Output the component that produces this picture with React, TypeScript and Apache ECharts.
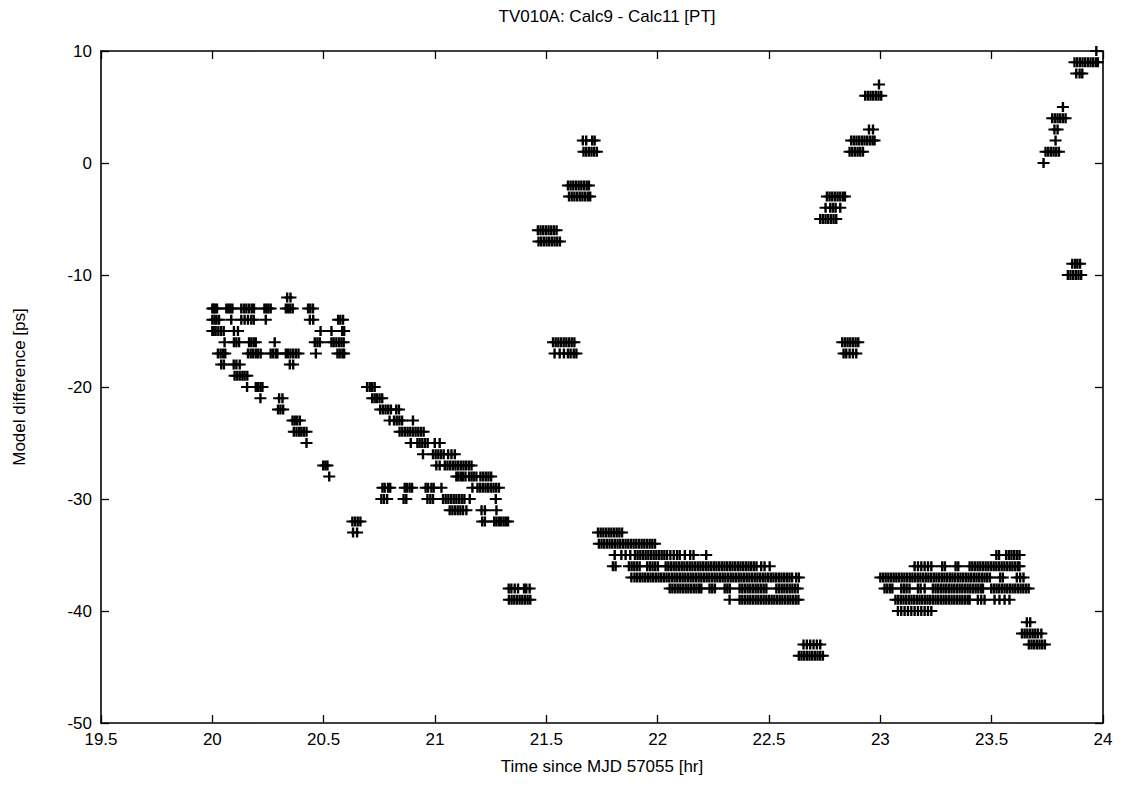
import React, { useEffect, useRef } from "react";
import * as echarts from "echarts";

// Each row: [model difference (ps), time (hr), time (hr), ...]
const groupA: number[][] = [
  [-12, 20.336, 20.351],
  [-13, 20.0, 20.005, 20.012, 20.021, 20.063, 20.072, 20.081, 20.09, 20.13, 20.142, 20.153, 20.165, 20.177, 20.187, 20.234, 20.243, 20.252, 20.262, 20.33, 20.34, 20.35, 20.361, 20.43, 20.44, 20.452],
  [-14, 20.0, 20.01, 20.019, 20.03, 20.085, 20.13, 20.145, 20.16, 20.175, 20.186, 20.24, 20.438, 20.453, 20.565, 20.575, 20.587],
  [-15, 20.0, 20.006, 20.015, 20.027, 20.039, 20.051, 20.097, 20.115, 20.486, 20.535, 20.583, 20.592],
  [-16, 20.055, 20.097, 20.108, 20.12, 20.165, 20.175, 20.186, 20.195, 20.28, 20.46, 20.472, 20.483, 20.535, 20.545, 20.557, 20.569, 20.58, 20.59],
  [-17, 20.025, 20.037, 20.048, 20.058, 20.16, 20.172, 20.183, 20.195, 20.205, 20.217, 20.262, 20.273, 20.285, 20.292, 20.33, 20.34, 20.351, 20.363, 20.375, 20.387, 20.465, 20.562, 20.572, 20.584, 20.592],
  [-18, 20.04, 20.052, 20.096, 20.108, 20.123, 20.348, 20.363],
  [-19, 20.1, 20.112, 20.123, 20.135, 20.145, 20.157],
  [-20, 20.156, 20.195, 20.205, 20.216, 20.225],
  [-21, 20.216, 20.3, 20.315],
  [-22, 20.295, 20.306, 20.318],
  [-23, 20.36, 20.37, 20.381, 20.393],
  [-24, 20.366, 20.378, 20.39, 20.4, 20.411, 20.423],
  [-25, 20.423],
  [-27, 20.498, 20.508, 20.517],
  [-28, 20.525],
  [-32, 20.629, 20.641, 20.653, 20.665],
  [-33, 20.632, 20.65],
];

const groupB: number[][] = [
  [-20, 20.695, 20.707, 20.718, 20.729],
  [-21, 20.718, 20.729, 20.739, 20.751, 20.763],
  [-22, 20.754, 20.766, 20.778, 20.79, 20.802, 20.826, 20.838],
  [-23, 20.796, 20.816, 20.828, 20.84, 20.852, 20.901],
  [-24, 20.841, 20.853, 20.865, 20.877, 20.889, 20.901, 20.913, 20.925, 20.937, 20.949],
  [-25, 20.891, 20.921, 20.931, 20.943, 20.955, 20.967, 20.999, 21.021],
  [-26, 20.946, 20.991, 21.003, 21.015, 21.027, 21.039, 21.059, 21.074, 21.089],
  [-27, 21.006, 21.021, 21.044, 21.056, 21.068, 21.08, 21.092, 21.104, 21.116, 21.128, 21.14, 21.152, 21.164],
  [-28, 21.096, 21.105, 21.116, 21.126, 21.137, 21.153, 21.164, 21.174, 21.186, 21.204, 21.216, 21.228, 21.24, 21.252],
  [-29, 20.764, 20.774, 20.789, 20.799, 20.864, 20.874, 20.886, 20.897, 20.958, 20.969, 20.984, 20.994, 21.029, 21.168, 21.191, 21.203, 21.215, 21.227, 21.239, 21.251, 21.263, 21.275, 21.287],
  [-30, 20.759, 20.771, 20.785, 20.859, 20.871, 20.966, 20.979, 20.991, 21.036, 21.048, 21.06, 21.072, 21.084, 21.096, 21.108, 21.12, 21.132, 21.156, 21.273],
  [-31, 21.066, 21.078, 21.09, 21.102, 21.114, 21.126, 21.141, 21.209, 21.224, 21.276],
  [-32, 21.212, 21.224, 21.266, 21.276, 21.287, 21.297, 21.308, 21.318, 21.328],
];

const groupC: number[][] = [
  [-38, 21.331, 21.343, 21.358, 21.373, 21.4, 21.41, 21.425],
  [-39, 21.332, 21.344, 21.356, 21.368, 21.38, 21.392, 21.404, 21.416, 21.428],
  [-6, 21.462, 21.474, 21.486, 21.498, 21.51, 21.522, 21.534, 21.546],
  [-7, 21.465, 21.477, 21.489, 21.501, 21.513, 21.525, 21.537, 21.549, 21.561],
  [-16, 21.53, 21.542, 21.554, 21.566, 21.578, 21.59, 21.602, 21.614, 21.626],
  [-17, 21.537, 21.56, 21.579, 21.597, 21.609, 21.623, 21.635],
  [-2, 21.597, 21.609, 21.621, 21.633, 21.645, 21.657, 21.669, 21.681, 21.691],
  [-3, 21.602, 21.614, 21.626, 21.638, 21.65, 21.662, 21.674, 21.686, 21.697],
  [1, 21.667, 21.679, 21.691, 21.703, 21.715, 21.727],
  [2, 21.664, 21.679, 21.706, 21.717],
];

const groupD: number[][] = [
  [-33, 21.732, 21.744, 21.756, 21.768, 21.78, 21.792, 21.804, 21.816, 21.828, 21.84],
  [-34, 21.736, 21.748, 21.76, 21.772, 21.784, 21.796, 21.808, 21.82, 21.832, 21.844, 21.856, 21.868, 21.88, 21.892, 21.904, 21.916, 21.928, 21.94, 21.952, 21.964, 21.976, 21.988],
  [-35, 21.807, 21.837, 21.856, 21.877, 21.898, 21.91, 21.922, 21.934, 21.946, 21.958, 21.97, 21.982, 21.994, 22.006, 22.018, 22.03, 22.042, 22.057, 22.072, 22.087, 22.099, 22.122, 22.146, 22.161, 22.218],
  [-36, 21.799, 21.811, 21.871, 21.883, 21.895, 21.907, 21.919, 21.953, 21.965, 21.977, 21.989, 22.001, 22.036, 22.048, 22.06, 22.072, 22.084, 22.096, 22.108, 22.12, 22.132, 22.144, 22.156, 22.168, 22.18, 22.192, 22.204, 22.216, 22.228, 22.24, 22.252, 22.264, 22.276, 22.288, 22.3, 22.312, 22.324, 22.336, 22.348, 22.36, 22.372, 22.384, 22.396, 22.408, 22.42, 22.432, 22.444, 22.465, 22.48, 22.503],
  [-37, 21.882, 21.896, 21.908, 21.92, 21.932, 21.944, 21.956, 21.968, 21.98, 21.992, 22.004, 22.016, 22.028, 22.04, 22.052, 22.064, 22.076, 22.088, 22.1, 22.112, 22.124, 22.136, 22.148, 22.16, 22.172, 22.184, 22.196, 22.208, 22.22, 22.232, 22.244, 22.256, 22.268, 22.28, 22.292, 22.304, 22.316, 22.328, 22.34, 22.352, 22.364, 22.376, 22.388, 22.4, 22.412, 22.424, 22.436, 22.448, 22.46, 22.472, 22.484, 22.496, 22.508, 22.52, 22.532, 22.544, 22.556, 22.568, 22.58, 22.592, 22.604, 22.622, 22.634],
  [-38, 22.054, 22.066, 22.078, 22.09, 22.102, 22.114, 22.126, 22.138, 22.15, 22.162, 22.174, 22.186, 22.196, 22.233, 22.245, 22.257, 22.301, 22.313, 22.324, 22.368, 22.38, 22.392, 22.404, 22.416, 22.428, 22.44, 22.452, 22.464, 22.476, 22.488, 22.533, 22.545, 22.557, 22.569, 22.581, 22.593, 22.605, 22.617, 22.629],
  [-39, 22.323, 22.368, 22.38, 22.392, 22.404, 22.416, 22.428, 22.44, 22.452, 22.464, 22.476, 22.488, 22.5, 22.512, 22.524, 22.536, 22.548, 22.56, 22.572, 22.584, 22.596, 22.608, 22.62, 22.632],
  [-43, 22.655, 22.67, 22.685, 22.7, 22.715, 22.73],
  [-44, 22.634, 22.646, 22.658, 22.67, 22.682, 22.694, 22.706, 22.718, 22.73, 22.742],
];

const groupF: number[][] = [
  [7, 22.994],
  [6, 22.932, 22.944, 22.956, 22.968, 22.98, 22.992, 23.004],
  [3, 22.949, 22.967],
  [2, 22.869, 22.881, 22.893, 22.905, 22.917, 22.929, 22.941, 22.953, 22.965, 22.974],
  [1, 22.862, 22.874, 22.886, 22.898, 22.91, 22.922],
  [-3, 22.76, 22.772, 22.784, 22.796, 22.808, 22.82, 22.832, 22.841],
  [-4, 22.754, 22.775, 22.787, 22.799, 22.82],
  [-5, 22.73, 22.742, 22.754, 22.766, 22.778, 22.79, 22.802],
  [-16, 22.829, 22.841, 22.853, 22.865, 22.877, 22.889, 22.901],
  [-17, 22.835, 22.847, 22.862, 22.877, 22.892],
];

const groupE: number[][] = [
  [-35, 23.521, 23.533, 23.565, 23.577, 23.589, 23.601, 23.613, 23.625],
  [-36, 23.154, 23.169, 23.184, 23.199, 23.214, 23.229, 23.278, 23.29, 23.338, 23.35, 23.401, 23.413, 23.425, 23.437, 23.449, 23.461, 23.473, 23.485, 23.497, 23.509, 23.521, 23.533, 23.545, 23.557, 23.569, 23.581, 23.593, 23.605, 23.617, 23.625],
  [-37, 23.0, 23.012, 23.024, 23.036, 23.048, 23.06, 23.072, 23.084, 23.096, 23.108, 23.12, 23.132, 23.144, 23.156, 23.168, 23.18, 23.192, 23.204, 23.216, 23.228, 23.24, 23.252, 23.264, 23.276, 23.288, 23.3, 23.312, 23.324, 23.336, 23.348, 23.36, 23.372, 23.384, 23.396, 23.408, 23.42, 23.432, 23.444, 23.456, 23.468, 23.48, 23.492, 23.538, 23.55, 23.613, 23.628, 23.643],
  [-38, 23.019, 23.031, 23.043, 23.054, 23.094, 23.106, 23.118, 23.131, 23.169, 23.181, 23.199, 23.236, 23.248, 23.26, 23.272, 23.284, 23.296, 23.308, 23.32, 23.332, 23.344, 23.356, 23.368, 23.38, 23.392, 23.404, 23.416, 23.428, 23.44, 23.452, 23.461, 23.498, 23.51, 23.522, 23.534, 23.546, 23.558, 23.57, 23.582, 23.594, 23.606, 23.618, 23.63, 23.642, 23.654, 23.666],
  [-39, 23.068, 23.08, 23.092, 23.104, 23.116, 23.128, 23.14, 23.152, 23.164, 23.176, 23.188, 23.2, 23.212, 23.224, 23.236, 23.248, 23.26, 23.272, 23.284, 23.296, 23.308, 23.32, 23.332, 23.344, 23.356, 23.368, 23.38, 23.392, 23.401, 23.438, 23.453, 23.468, 23.513, 23.535, 23.558, 23.58],
  [-40, 23.079, 23.094, 23.109, 23.124, 23.139, 23.154, 23.169, 23.184, 23.199, 23.214, 23.229],
  [-41, 23.658, 23.673],
  [-42, 23.636, 23.648, 23.66, 23.672, 23.684, 23.696, 23.708, 23.723],
  [-43, 23.667, 23.679, 23.691, 23.703, 23.715, 23.727, 23.739],
];

const groupG: number[][] = [
  [10, 23.97],
  [9, 23.872, 23.884, 23.896, 23.908, 23.92, 23.932, 23.944, 23.956, 23.968, 23.977],
  [8, 23.88, 23.895, 23.907],
  [5, 23.82],
  [4, 23.772, 23.784, 23.796, 23.808, 23.82, 23.832],
  [3, 23.782, 23.796],
  [2, 23.787],
  [1, 23.742, 23.754, 23.766, 23.778, 23.79, 23.802],
  [0, 23.733],
  [-9, 23.862, 23.875, 23.885, 23.897],
  [-10, 23.842, 23.854, 23.866, 23.878, 23.89, 23.902],
];

const xTicks = { min: 19.5, max: 24, interval: 0.5 };
const yTicks = { min: -50, max: 10, interval: 10 };

const titleText = "TV010A: Calc9 - Calc11 [PT]";
const xName = "Time since MJD 57055 [hr]";
const yName = "Model difference [ps]";

const FONT = '"Liberation Sans", Arial, Helvetica, sans-serif';
const PLUS = "path://M0,4H12V6H0ZM4.8,0H7.2V10H4.8Z";

function toPoints(groups: number[][][]): number[][] {
  const pts: number[][] = [];
  for (const g of groups) {
    for (const row of g) {
      const y = row[0];
      for (let i = 1; i < row.length; i++) pts.push([row[i], y]);
    }
  }
  return pts;
}

export default function App() {
  const ref = useRef<HTMLDivElement>(null);
  useEffect(() => {
    if (!ref.current) return;
    const chart = echarts.init(ref.current, undefined, { renderer: "svg" });
    const data = toPoints([groupA, groupB, groupC, groupD, groupF, groupE, groupG]);
    const axisCommon = {
      axisLine: { show: true, onZero: false, lineStyle: { color: "#000", width: 1.6 } },
      axisTick: { show: true, inside: true, length: 8, lineStyle: { color: "#000", width: 1.3 } },
      splitLine: { show: false },
    };
    chart.setOption({
      animation: false,
      backgroundColor: "#fff",
      textStyle: { fontFamily: FONT, color: "#000" },
      title: {
        text: titleText,
        left: 602,
        top: 3,
        textAlign: "center",
        textStyle: { fontFamily: FONT, fontSize: 17, fontWeight: "normal", color: "#000" },
      },
      grid: { left: 101, right: 24, top: 51, bottom: 74, containLabel: false },
      xAxis: [
        {
          type: "value",
          ...xTicks,
          position: "bottom",
          ...axisCommon,
          axisLabel: { show: true, color: "#000", fontFamily: FONT, fontSize: 17, margin: 8 },
          name: xName,
          nameLocation: "middle",
          nameGap: 35,
          nameTextStyle: { color: "#000", fontFamily: FONT, fontSize: 17 },
        },
        {
          type: "value",
          ...xTicks,
          position: "top",
          ...axisCommon,
          axisLabel: { show: false },
        },
      ],
      yAxis: [
        {
          type: "value",
          ...yTicks,
          position: "left",
          ...axisCommon,
          axisLabel: { show: true, color: "#000", fontFamily: FONT, fontSize: 17, margin: 9 },
          name: yName,
          nameLocation: "middle",
          nameRotate: 90,
          nameGap: 73,
          nameTextStyle: { color: "#000", fontFamily: FONT, fontSize: 17 },
        },
        {
          type: "value",
          ...yTicks,
          position: "right",
          ...axisCommon,
          axisLabel: { show: false },
        },
      ],
      series: [
        {
          type: "scatter",
          xAxisIndex: 0,
          yAxisIndex: 0,
          data,
          symbol: PLUS,
          symbolSize: [12, 10],
          clip: false,
          itemStyle: { color: "#000", opacity: 1 },
          emphasis: { disabled: true },
        },
      ],
    });
    return () => chart.dispose();
  }, []);
  return (
    <div
      ref={ref}
      style={{ position: "absolute", left: 0, top: 0, width: 1127, height: 797, background: "#fff" }}
    />
  );
}
